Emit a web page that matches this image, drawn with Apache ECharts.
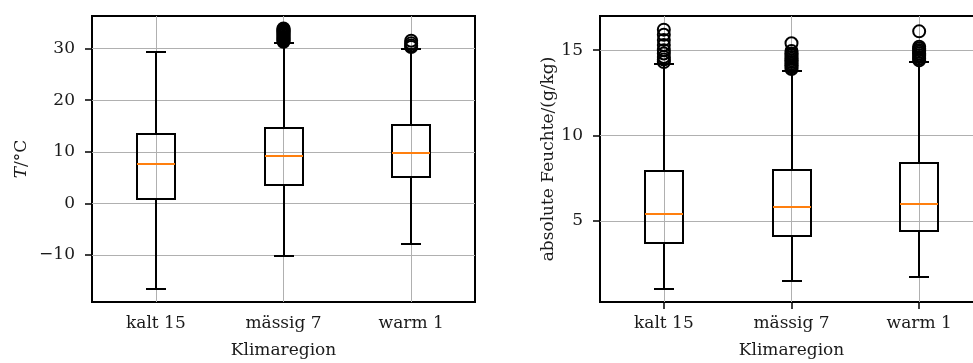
<!DOCTYPE html>
<html>
<head>
<meta charset="utf-8">
<script src="https://cdn.jsdelivr.net/npm/echarts@6/dist/echarts.min.js"></script>
<style>
  html, body { margin: 0; padding: 0; background: #fff; }
  #chart { width: 973px; height: 363px; }
</style>
</head>
<body>
<div id="chart"></div>
<script>
// Klimaregionen
const categories = ['kalt 15', 'mässig 7', 'warm 1'];

// Temperatur: [min, Q1, Median, Q3, max]
const tempBoxes = [
  [-16.6, 0.8, 7.6, 13.5, 29.3],
  [-10.1, 3.6, 9.2, 14.6, 31.1],
  [-7.8, 5.1, 9.8, 15.1, 30.0]
];
// Ausreisser Temperatur
const tempOutliers = [
  [],
  [31.3, 31.5, 31.7, 31.9, 32.1, 32.3, 32.5, 32.7, 32.9, 33.1, 33.3, 33.5, 33.7, 33.9],
  [30.3, 30.6, 31.0, 31.5]
];
const tempTicks = [-10, 0, 10, 20, 30];

// absolute Feuchte: [min, Q1, Median, Q3, max]
const humBoxes = [
  [1.0, 3.7, 5.4, 7.9, 14.2],
  [1.5, 4.1, 5.8, 8.0, 13.8],
  [1.7, 4.4, 6.0, 8.4, 14.3]
];
const humOutliers = [
  [14.3, 14.45, 14.6, 14.8, 15.0, 15.3, 15.6, 15.9, 16.2],
  [13.9, 14.0, 14.1, 14.2, 14.3, 14.4, 14.5, 14.6, 14.7, 14.8, 14.95, 15.4],
  [14.4, 14.5, 14.6, 14.7, 14.8, 14.9, 15.0, 15.1, 15.2, 16.1]
];
const humTicks = [5, 10, 15];

const chart = echarts.init(document.getElementById('chart'));

const FONT = 'DejaVu Serif';
const TEXT = '#1a1a1a';

// box mit halb so breiten Whisker-Enden wie bei matplotlib
function renderBox(params, api) {
  const idx = api.value(0);
  const r = p => Math.round(p);
  const lo = api.coord([idx, api.value(1)]);
  const q1 = api.coord([idx, api.value(2)]);
  const med = api.coord([idx, api.value(3)]);
  const q3 = api.coord([idx, api.value(4)]);
  const hi = api.coord([idx, api.value(5)]);
  const band = api.size([1, 0])[0];
  const hw = Math.round(band * 0.15);
  const cw = Math.round(hw / 2);
  const x = r(lo[0]);
  const line = { stroke: '#000', lineWidth: 2, fill: null };
  return {
    type: 'group',
    children: [
      { type: 'line', shape: { x1: x, y1: r(lo[1]), x2: x, y2: r(q1[1]) }, style: line },
      { type: 'line', shape: { x1: x, y1: r(q3[1]), x2: x, y2: r(hi[1]) }, style: line },
      { type: 'line', shape: { x1: x - cw, y1: r(lo[1]), x2: x + cw, y2: r(lo[1]) }, style: line },
      { type: 'line', shape: { x1: x - cw, y1: r(hi[1]), x2: x + cw, y2: r(hi[1]) }, style: line },
      { type: 'rect', shape: { x: x - hw, y: r(q3[1]), width: hw * 2, height: r(q1[1]) - r(q3[1]) }, style: { stroke: '#000', lineWidth: 2, fill: 'rgba(0,0,0,0)' } },
      { type: 'line', shape: { x1: x - hw, y1: r(med[1]), x2: x + hw, y2: r(med[1]) }, style: { stroke: '#ff7f0e', lineWidth: 2 } }
    ]
  };
}

function boxData(boxes) {
  return boxes.map((b, i) => [i].concat(b));
}

function outlierData(outliers) {
  const out = [];
  outliers.forEach((list, i) => list.forEach(v => out.push([i, v])));
  return out;
}

function xAxis(gridIndex) {
  return {
    type: 'category',
    gridIndex: gridIndex,
    data: categories,
    name: 'Klimaregion',
    nameLocation: 'middle',
    nameGap: 40,
    nameTextStyle: { fontFamily: FONT, fontSize: 17, color: TEXT },
    axisLine: { show: false },
    axisTick: { show: true, alignWithLabel: true, length: 7, lineStyle: { color: '#000', width: 1.5 } },
    axisLabel: { fontFamily: FONT, fontSize: 17, color: TEXT, margin: 13 },
    splitLine: { show: true, alignWithLabel: true, lineStyle: { color: '#b0b0b0', width: 1 } }
  };
}

function yAxis(gridIndex, min, max, ticks, name, nameGap, splitNumber) {
  return {
    type: 'value',
    gridIndex: gridIndex,
    min: min,
    max: max,
    splitNumber: splitNumber,
    name: name,
    nameLocation: 'middle',
    nameGap: nameGap,
    nameTextStyle: {
      fontFamily: FONT, fontSize: 17, color: TEXT,
      rich: { i: { fontFamily: FONT, fontSize: 17, fontStyle: 'italic', color: TEXT } }
    },
    axisLine: { show: false },
    axisTick: { show: true, length: 7, customValues: ticks, lineStyle: { color: '#000', width: 1.5 } },
    axisLabel: {
      fontFamily: FONT, fontSize: 17, color: TEXT, margin: 17,
      customValues: ticks,
      formatter: v => String(v).replace('-', '\u2212')
    },
    splitLine: { show: true, lineStyle: { color: '#b0b0b0', width: 1 } }
  };
}

const option = {
  animation: false,
  backgroundColor: '#fff',
  grid: [
    { left: 92, top: 16, width: 383, height: 286, outerBoundsMode: 'none', show: true, borderColor: '#000', borderWidth: 2, backgroundColor: 'transparent' },
    { left: 600, top: 16, width: 383, height: 286, outerBoundsMode: 'none', show: true, borderColor: '#000', borderWidth: 2, backgroundColor: 'transparent' }
  ],
  xAxis: [xAxis(0), xAxis(1)],
  yAxis: [
    yAxis(0, -19.1, 36.3, tempTicks, '{i|T}/°C', 62, 5),
    yAxis(1, 0.25, 17.0, humTicks, 'absolute Feuchte/(g/kg)', 40, 3)
  ],
  series: [
    {
      type: 'custom', xAxisIndex: 0, yAxisIndex: 0,
      renderItem: renderBox, data: boxData(tempBoxes), z: 3,
      encode: { x: 0, y: [1, 2, 3, 4, 5] }
    },
    {
      type: 'scatter', xAxisIndex: 0, yAxisIndex: 0,
      data: outlierData(tempOutliers), symbol: 'circle', symbolSize: 12, z: 4,
      itemStyle: { color: 'rgba(0,0,0,0)', borderColor: '#000', borderWidth: 2, opacity: 1 }
    },
    {
      type: 'custom', xAxisIndex: 1, yAxisIndex: 1,
      renderItem: renderBox, data: boxData(humBoxes), z: 3,
      encode: { x: 0, y: [1, 2, 3, 4, 5] }
    },
    {
      type: 'scatter', xAxisIndex: 1, yAxisIndex: 1,
      data: outlierData(humOutliers), symbol: 'circle', symbolSize: 12, z: 4,
      itemStyle: { color: 'rgba(0,0,0,0)', borderColor: '#000', borderWidth: 2, opacity: 1 }
    }
  ]
};

chart.setOption(option);
</script>
</body>
</html>
